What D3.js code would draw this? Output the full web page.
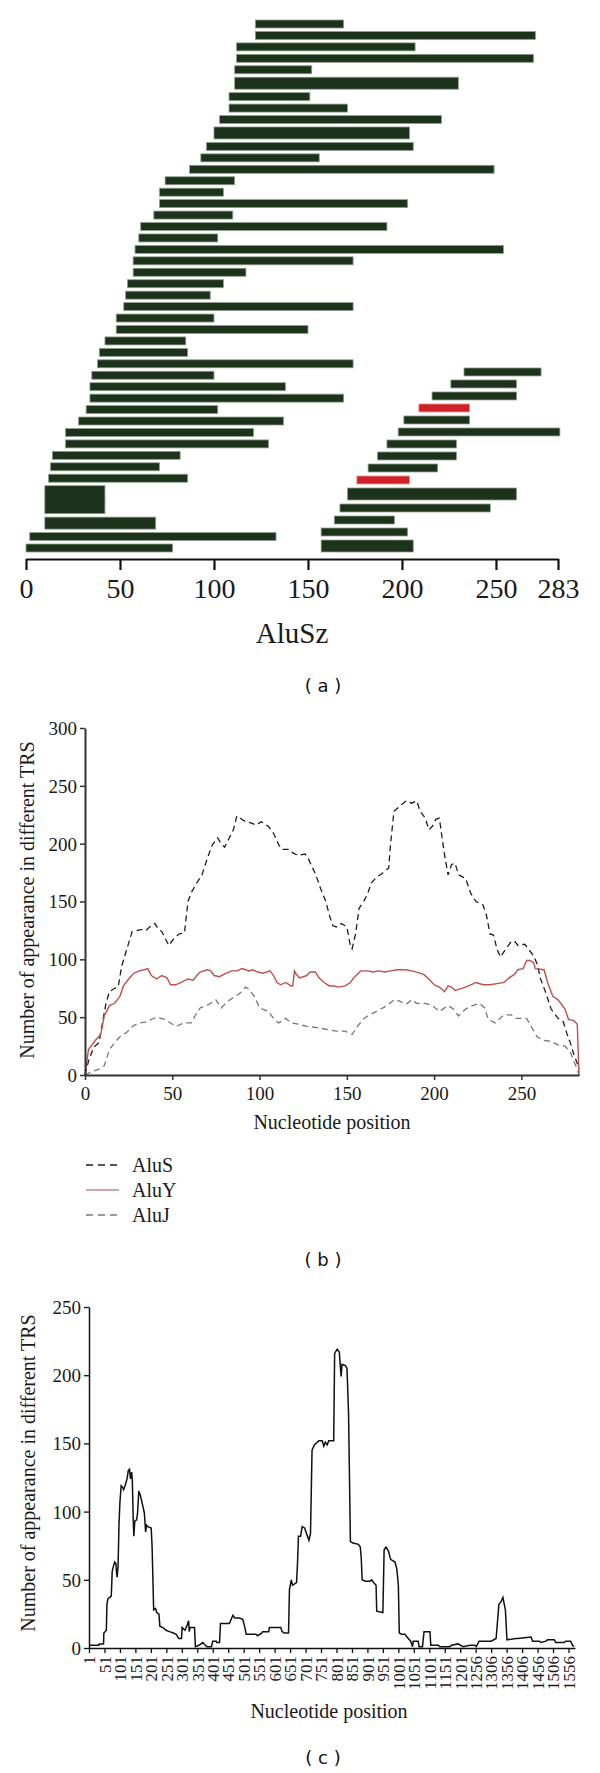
<!DOCTYPE html>
<html><head><meta charset="utf-8">
<script src="https://cdn.jsdelivr.net/npm/d3@7"></script>
<style>
body{margin:0;background:#fff;}
svg{display:block;background:#fff;}
.serif{font-family:"Liberation Serif","DejaVu Serif","Times New Roman",serif;}
.sans{font-family:"DejaVu Sans",Verdana,sans-serif;}
</style></head><body>
<svg id="chart" width="600" height="1773"></svg>
<script>
// ================= DATA =================
// Panel (a): AluSz fragments (nucleotide start / end), left cluster top -> bottom
const leftStart  = [122,122,112,112,111,111,108,108,103,100,96,93,87,74,71,71,68,61,60,58,57,57,54,53,52,48,48,42,39,38,35,34,34,32,28,21,21,14,13,12,10,10,2,0];
const leftEnd    = [169,271,207,270,152,230,151,171,221,204,206,156,249,111,105,203,110,192,102,254,174,117,105,98,174,100,150,85,86,174,100,138,169,102,137,121,129,82,71,86,42,69,133,78];
const leftCopies = [1,1,1,1,1,2,1,1,1,2,1,1,1,1,1,1,1,1,1,1,1,1,1,1,1,1,1,1,1,1,1,1,1,1,1,1,1,1,1,1,6,2,1,1];
// right cluster top -> bottom
const rightStart  = [233,226,216,209,201,198,192,187,182,176,171,167,164,157,157];
const rightEnd    = [274,261,261,236,236,284,229,229,219,204,261,247,196,203,206];
const rightCopies = [1,1,1,1,1,1,1,1,1,1,2,1,1,1,2];
const rightFlag   = [0,0,0,1,0,0,0,0,0,1,0,0,0,0,0];
const aTicks = [0,50,100,150,200,250,283];
const aTitle = "AluSz";

// Panel (b): appearance per nucleotide position
const aluS = [[0,0],[2,12],[5,24],[8,28],[10,45],[12,62],[14,72],[17,75],[19,76],[21,94],[24,109],[27,124],[30,125],[33,126],[35,125],[37,128],[40,131],[42,126],[44,124],[46,118],[48,112],[51,118],[54,122],[57,123],[59,150],[61,158],[64,166],[67,173],[70,187],[73,199],[76,205],[78,200],[80,197],[82,203],[85,212],[87,224],[89,222],[92,219],[95,218],[98,216],[101,219],[105,215],[108,209],[111,199],[113,195],[117,195],[119,192],[122,190],[126,191],[128,187],[130,180],[132,174],[135,161],[138,150],[140,138],[142,129],[144,128],[147,131],[150,128],[152,112],[153,109],[155,122],[157,144],[160,151],[162,157],[164,166],[167,171],[170,174],[174,179],[175,199],[177,228],[180,232],[184,237],[187,235],[190,237],[192,228],[195,222],[197,212],[199,215],[201,221],[203,222],[206,190],[208,173],[210,182],[212,183],[214,173],[218,170],[221,157],[224,150],[228,147],[230,138],[232,122],[234,121],[236,109],[238,102],[241,109],[244,115],[246,116],[248,112],[252,113],[254,109],[257,103],[259,96],[261,83],[264,71],[267,57],[271,49],[274,46],[276,36],[278,28],[280,18],[282,10],[283,5]];
const aluY = [[0,0],[2,22],[6,30],[9,35],[11,51],[14,60],[17,62],[20,68],[22,77],[25,83],[28,88],[31,90],[34,91],[36,92],[38,86],[41,83],[44,86],[47,84],[49,78],[52,78],[55,80],[59,83],[62,82],[64,86],[66,89],[70,91],[72,90],[74,86],[77,85],[81,88],[84,90],[87,90],[90,92],[94,90],[96,91],[99,89],[102,88],[106,90],[108,86],[110,80],[112,78],[115,80],[118,77],[119,77],[120,90],[121,87],[123,84],[127,86],[129,89],[132,89],[134,84],[137,80],[140,77],[143,77],[145,76],[149,77],[152,80],[154,84],[156,87],[158,90],[162,90],[165,89],[168,90],[172,89],[175,90],[179,91],[184,91],[187,90],[190,89],[194,87],[197,83],[200,78],[203,76],[206,72],[208,77],[210,76],[212,73],[214,74],[218,76],[221,78],[224,80],[228,78],[232,78],[236,79],[240,80],[243,84],[246,87],[248,91],[251,92],[253,99],[255,99],[257,97],[258,92],[263,91],[265,80],[268,68],[271,65],[275,57],[277,48],[280,47],[282,44],[283,0]];
const aluJ = [[0,0],[4,3],[8,5],[11,8],[14,22],[17,28],[20,33],[24,37],[28,43],[32,45],[35,46],[38,48],[41,50],[46,48],[49,45],[52,42],[55,44],[57,45],[61,45],[63,51],[66,58],[71,61],[75,65],[78,58],[82,64],[86,68],[89,71],[92,76],[94,74],[97,68],[100,58],[105,55],[108,49],[111,45],[115,49],[118,45],[122,44],[127,42],[133,41],[140,39],[144,38],[149,38],[153,35],[156,42],[160,49],[163,52],[167,55],[173,60],[177,65],[180,64],[184,61],[187,65],[190,62],[195,62],[199,60],[203,55],[208,60],[211,57],[214,51],[218,57],[222,60],[226,62],[229,58],[231,48],[235,45],[240,52],[244,52],[247,49],[253,49],[256,41],[259,33],[263,30],[267,29],[271,26],[275,25],[278,20],[280,12],[282,5],[283,0]];
const bSeriesNames = ["AluS","AluY","AluJ"];
const bYTicks = [0,50,100,150,200,250,300];
const bXTicks = [0,50,100,150,200,250];
const bXTitle = "Nucleotide position";
const yTitle = "Number of appearance in different TRS";

// Panel (c): appearance per nucleotide position (index along the sequence)
const cSeries = [[1,2],[33,2],[34,3],[48,3],[49,11],[53,12],[57,13],[59,32],[62,36],[73,38],[76,56],[80,60],[84,63],[88,62],[90,55],[92,52],[95,60],[98,91],[101,107],[105,119],[109,118],[113,116],[119,120],[124,124],[128,130],[132,131],[135,124],[139,129],[141,123],[144,94],[146,82],[149,93],[155,94],[158,99],[162,115],[167,112],[173,106],[180,99],[184,85],[187,90],[191,89],[202,88],[205,74],[210,28],[216,29],[220,26],[227,25],[230,16],[240,15],[250,13],[261,12],[274,11],[283,10],[291,7],[300,7],[302,15],[311,13],[317,16],[323,20],[325,12],[328,15],[342,15],[345,1],[356,2],[369,4],[377,2],[382,1],[397,1],[401,5],[412,5],[414,4],[423,4],[426,18],[455,18],[466,24],[472,22],[487,22],[498,21],[505,15],[509,10],[541,10],[546,9],[560,11],[562,12],[582,12],[584,15],[621,15],[625,12],[632,11],[646,11],[649,43],[655,50],[659,46],[672,48],[675,62],[678,82],[685,82],[690,89],[698,88],[704,84],[712,79],[717,84],[722,145],[730,149],[744,152],[755,152],[760,148],[765,151],[771,149],[776,152],[792,152],[795,216],[803,219],[810,217],[816,199],[819,208],[830,207],[835,205],[840,172],[846,78],[854,77],[872,76],[878,74],[881,66],[884,50],[894,49],[910,49],[915,50],[921,48],[929,46],[931,27],[951,26],[955,72],[961,74],[969,71],[976,65],[990,63],[996,58],[1001,46],[1004,11],[1012,10],[1022,10],[1033,7],[1041,5],[1047,1],[1049,5],[1065,5],[1068,1],[1079,1],[1084,12],[1103,12],[1106,2],[1130,2],[1135,1],[1167,1],[1173,2],[1194,3],[1210,1],[1232,2],[1248,2],[1253,1],[1262,5],[1274,5],[1301,5],[1317,7],[1326,32],[1333,34],[1339,37],[1347,28],[1352,6],[1381,7],[1387,7],[1430,8],[1435,5],[1457,5],[1462,4],[1478,5],[1483,6],[1505,6],[1510,4],[1537,4],[1542,5],[1558,5],[1564,2],[1569,1]];
const cTickLabels = ["1","51","101","151","201","251","301","351","401","451","501","551","601","651","701","751","801","851","901","951","1001","1051","1101","1151","1201","1256","1306","1356","1406","1456","1506","1556"];
const cYTicks = [0,50,100,150,200,250];
const panelLabels = ["( a )","( b )","( c )"];

// ================= DRAW =================
const svg = d3.select("#chart");
const ink = "#1a1a1a";
const serifText = sel => sel.attr("class","serif").attr("font-family",null);

// ---------- Panel (a) ----------
const xA = d3.scaleLinear().domain([0,283]).range([26,558]);
const unitH = c => 1 + 0.5*(c-1);
const gapL = 0.43, gapR = 0.5;
const left = leftStart.map((s,i)=>({s, e:leftEnd[i], c:leftCopies[i], flag:0}));
let acc = 0;
left.forEach((d,i)=>{ d.top = acc; d.h = unitH(d.c); acc += d.h + (i<left.length-1?gapL:0); });
const totalL = acc;
const right = rightStart.map((s,i)=>({s, e:rightEnd[i], c:rightCopies[i], flag:rightFlag[i]}));
let accR = totalL;
for (let i=right.length-1;i>=0;i--){ const d=right[i]; d.h=unitH(d.c); d.top=accR-d.h; accR = d.top - gapR; }
const yA = d3.scaleLinear().domain([0,totalL]).range([20,552]);
const bars = left.concat(right);
svg.append("g").selectAll("rect").data(bars).join("rect")
  .attr("x", d=>xA(d.s)).attr("width", d=>xA(d.e)-xA(d.s))
  .attr("y", d=>yA(d.top)).attr("height", d=>yA(d.top+d.h)-yA(d.top))
  .attr("fill", d=>d.flag? "#cf2128":"#1c321b")
  .attr("stroke", d=>d.flag? "#e79a9a":"#8ea38b").attr("stroke-width",0.8);

const axA = svg.append("g").attr("transform","translate(0,559)")
  .call(d3.axisBottom(xA).tickValues(aTicks).tickSize(11).tickSizeOuter(0).tickFormat(d3.format("d")));
axA.attr("font-family",null).attr("font-size",null);
axA.select(".domain").attr("stroke","#111").attr("stroke-width",2.2);
axA.selectAll(".tick line").attr("stroke","#111").attr("stroke-width",2.2);
axA.selectAll(".tick text").call(serifText).attr("y",39).attr("dy",0).attr("fill",ink)
  .style("font-size","28px");
svg.append("text").call(serifText).attr("x",xA(141.5)).attr("y",643).attr("text-anchor","middle")
  .style("font-size","29px").attr("fill",ink).text(aTitle);

// ---------- Panel (b) ----------
const xB = d3.scaleLinear().domain([0,283]).range([85,579]);
const yB = d3.scaleLinear().domain([0,300]).range([1075,728]);
const lineB = d3.line().x(d=>xB(d[0])).y(d=>yB(d[1]));
const bStyles = [
  {color:"#1e1e1e", dash:"6,4", w:1.3},
  {color:"#c0504d", dash:null, w:1.4},
  {color:"#777777", dash:"6,4", w:1.3}
];
[aluS, aluY, aluJ].forEach((s,i)=>{
  svg.append("path").datum(s).attr("d",lineB).attr("fill","none")
    .attr("stroke",bStyles[i].color).attr("stroke-width",bStyles[i].w)
    .attr("stroke-dasharray",bStyles[i].dash);
});
const axBx = svg.append("g").attr("transform","translate(0,1075)")
  .call(d3.axisBottom(xB).tickValues(bXTicks).tickSize(5).tickSizeOuter(0));
const axBy = svg.append("g").attr("transform","translate(85,0)")
  .call(d3.axisLeft(yB).tickValues(bYTicks).tickSize(5).tickSizeOuter(0));
[axBx, axBy].forEach(g=>{
  g.attr("font-family",null).attr("font-size",null);
  g.select(".domain").attr("stroke","#333").attr("stroke-width",2);
  g.selectAll(".tick line").attr("stroke","#333").attr("stroke-width",1.5);
  g.selectAll(".tick text").call(serifText).attr("fill",ink).style("font-size","19px");
});
axBx.selectAll(".tick text").attr("y",25).attr("dy",0);
axBy.selectAll(".tick text").attr("x",-8).attr("dy","0.34em");
svg.append("text").call(serifText).attr("x",xB(141.5)).attr("y",1129).attr("text-anchor","middle")
  .style("font-size","20px").attr("fill",ink).text(bXTitle);
svg.append("text").call(serifText).attr("transform","translate(34,900) rotate(-90)").attr("text-anchor","middle")
  .style("font-size","20px").attr("fill",ink).text(yTitle);

// legend
const legY = d3.scalePoint().domain(bSeriesNames).range([1165,1215]);
bSeriesNames.forEach((n,i)=>{
  svg.append("line").attr("x1",86).attr("x2",119).attr("y1",legY(n)).attr("y2",legY(n))
    .attr("stroke", i===1? "#c98682": bStyles[i].color).attr("stroke-width",1.3)
    .attr("stroke-dasharray", bStyles[i].dash? "7,5": null);
  svg.append("text").call(serifText).attr("x",132).attr("y",legY(n)+7)
    .style("font-size","20px").attr("fill",ink).text(n);
});

// ---------- Panel (c) ----------
const xC = d3.scaleLinear().domain([1,1572]).range([89,575]);
const yC = d3.scaleLinear().domain([0,250]).range([1648,1307]);
const cTickPos = cTickLabels.map((l,i)=>1+50*i);
svg.append("path").datum(cSeries).attr("d", d3.line().x(d=>xC(d[0])).y(d=>yC(d[1])))
  .attr("fill","none").attr("stroke","#111").attr("stroke-width",1.5);
const axCx = svg.append("g").attr("transform","translate(0,1648)")
  .call(d3.axisBottom(xC).tickValues(cTickPos).tickSize(5).tickSizeOuter(0)
    .tickFormat((d,i)=>cTickLabels[i]));
const axCy = svg.append("g").attr("transform","translate(89,0)")
  .call(d3.axisLeft(yC).tickValues(cYTicks).tickSize(5).tickSizeOuter(0));
[axCx, axCy].forEach(g=>{
  g.attr("font-family",null).attr("font-size",null);
  g.select(".domain").attr("stroke","#111").attr("stroke-width",1.5);
  g.selectAll(".tick line").attr("stroke","#111").attr("stroke-width",1.3);
  g.selectAll(".tick text").call(serifText).attr("fill",ink).style("font-size","19px");
});
axCx.selectAll(".tick text").attr("transform","rotate(-90)").attr("x",-8).attr("y",0)
  .attr("dy","0.34em").style("text-anchor","end").style("font-size","17px");
axCy.selectAll(".tick text").attr("x",-8).attr("dy","0.34em");
svg.append("text").call(serifText).attr("x",329).attr("y",1718).attr("text-anchor","middle")
  .style("font-size","20px").attr("fill",ink).text(bXTitle);
svg.append("text").call(serifText).attr("transform","translate(35,1473) rotate(-90)").attr("text-anchor","middle")
  .style("font-size","20px").attr("fill",ink).text(yTitle);

// ---------- panel labels ----------
const labY = [692, 1266, 1764];
panelLabels.forEach((t,i)=>{
  svg.append("text").attr("class","sans").attr("x",323).attr("y",labY[i]).attr("text-anchor","middle")
    .style("font-size","18px").attr("fill","#111").text(t);
});
</script>
</body></html>
